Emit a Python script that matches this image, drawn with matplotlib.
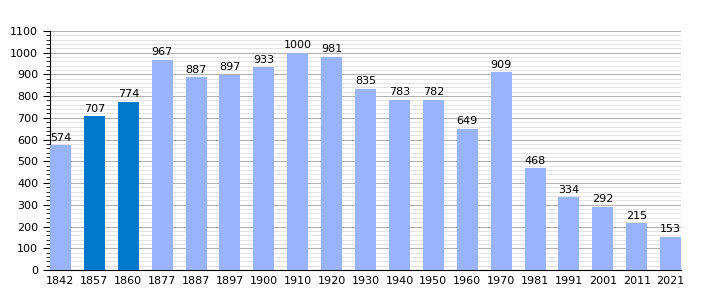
import numpy as np
import matplotlib.pyplot as plt
from matplotlib.ticker import MultipleLocator

years = ['1842', '1857', '1860', '1877', '1887', '1897', '1900', '1910', '1920', '1930',
         '1940', '1950', '1960', '1970', '1981', '1991', '2001', '2011', '2021']
pop = [574, 707, 774, 967, 887, 897, 933, 1000, 981, 835,
       783, 782, 649, 909, 468, 334, 292, 215, 153]
dark = ['1857', '1860']

fig = plt.figure(figsize=(7.1, 3.0), dpi=100)
ax = fig.add_axes([0.0704, 0.1, 0.889, 0.797])

x = np.arange(len(years))
colors = ['#0079cc' if y in dark else '#99b3ff' for y in years]
ax.bar(x, pop, width=0.62, color=colors, zorder=3)
for xi, v in zip(x, pop):
    ax.text(xi, v + 12, str(v), ha='center', va='bottom', fontsize=8, zorder=4)

ax.set_xlim(-0.31, len(years) - 0.69)
ax.set_ylim(0, 1100)
ax.yaxis.set_major_locator(MultipleLocator(100))
ax.yaxis.set_minor_locator(MultipleLocator(20))
ax.grid(axis='y', which='major', color='#b0b0b0', lw=0.8, zorder=0)
ax.grid(axis='y', which='minor', color='#dddddd', lw=0.6, zorder=0)
ax.set_xticks(x)
ax.set_xticklabels(years)
ax.tick_params(axis='x', length=0, labelsize=8, pad=4)
ax.tick_params(axis='y', which='major', length=5, labelsize=8)
ax.tick_params(axis='y', which='minor', length=3)
for s in ['top', 'right']:
    ax.spines[s].set_visible(False)

fig.savefig('out.png')
